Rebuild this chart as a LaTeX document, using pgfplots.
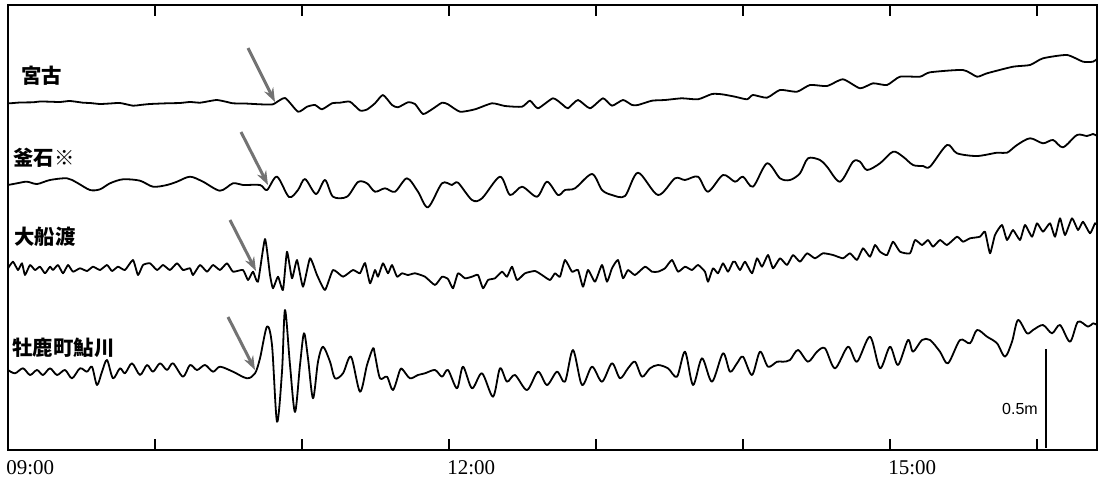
\documentclass[border=0pt]{standalone}
\usepackage{pgfplots}
\pgfplotsset{compat=1.18}
\usetikzlibrary{arrows.meta}
\usepackage{fontspec}
\setmainfont{Liberation Serif}
\newfontfamily\jp{Noto Sans CJK JP}
\newfontfamily\lsans{Liberation Sans}
\definecolor{arrowgray}{RGB}{115,115,115}
\begin{document}
\begin{tikzpicture}
\useasboundingbox (-4pt,-16.5pt) rectangle (545pt,225pt);
\begin{axis}[
  at={(0,0)}, anchor=south west, scale only axis,
  width=544.5pt, height=222.5pt,
  xmin=8, xmax=1097, ymin=-450, ymax=-5,
  axis line style={line width=1pt},
  xtick={8,155,302,449,596,743,890,1037},
  xticklabels={09:00,,,12:00,,,15:00,},
  ytick=\empty,
  tick align=inside, major tick length=5.5pt,
  tick style={line width=0.8pt, black},
  xticklabel style={anchor=north west, inner sep=0pt, yshift=-5pt, xshift=-1pt, font=\fontsize{10.5}{12}\selectfont},
  clip=false,
]
% 宮古
\addplot[black, line width=0.9pt, line join=round, smooth, tension=0.35] coordinates {
(8,-103)(10,-103.3)(20,-102.5)(33,-102.3)(40,-101.5)(50,-101.7)(60,-102)(70,-101)(83,-102.7)(90,-103)(100,-104)(110,-103.5)(120,-103)(133,-105.7)(140,-105)(150,-104)(167,-103.3)(180,-103)(190,-102)(200,-102.7)(210,-101)(217,-100)(225,-101.5)(233,-103.3)(245,-103.5)(260,-104.3)(273,-104.3)(285,-98)(298,-111.7)(307,-106.7)(315,-105)(322,-109.3)(332,-103.3)(340,-102.7)(350,-101.7)(360,-110.5)(367,-109.5)(375,-103.3)(383,-95)(392,-105)(398,-107.3)(408,-102.3)(415,-104)(423,-114)(432,-109.3)(442,-102.7)(448,-104.3)(460,-111.7)(475,-109.3)(492,-103.3)(505,-106)(522,-106.7)(530,-100.7)(538,-108.3)(553,-98.3)(563,-105)(568,-108.3)(578,-100)(590,-108.3)(603,-98.3)(612,-105.7)(623,-100)(632,-105)(638,-105)(652,-100.7)(665,-100)(682,-98.3)(698,-99.3)(712,-94)(722,-94.3)(735,-96.7)(747,-99.3)(753,-95)(767,-97.7)(780,-90)(797,-91.7)(810,-85)(827,-86)(843,-79.3)(860,-88.3)(873,-83.3)(887,-85)(900,-76.7)(920,-76.7)(930,-72.3)(963,-70)(977,-76.7)(987,-73.3)(1013,-66.7)(1030,-65)(1043,-58.3)(1067,-55)(1083,-61.7)(1093,-61.7)(1097,-59)
};
% 釜石
\addplot[black, line width=0.9pt, line join=round, smooth, tension=0.5] coordinates {
(8,-185)(17,-183.3)(27,-181.7)(37,-184)(50,-180)(67,-178.3)(77,-182.7)(90,-190)(100,-189.3)(110,-183.3)(123,-179.3)(140,-180.7)(153,-186.7)(167,-185)(177,-181.7)(190,-176.7)(203,-181.7)(220,-190.7)(233,-183.3)(243,-185)(260,-185)(267,-190)(277,-176.7)(289,-197)(298,-190)(305,-179)(316,-194)(325,-180)(333,-196.7)(347,-196.7)(358,-182)(367,-183.3)(375,-191.7)(385,-188.3)(395,-191.7)(407,-178.3)(418,-191.7)(428,-207.3)(442,-183.3)(452,-185)(458,-182.7)(472,-200)(482,-198.3)(500,-176.7)(510,-195)(522,-186.7)(537,-196.7)(547,-181.7)(558,-195)(565,-190)(575,-188.3)(592,-174)(602,-190)(612,-195)(625,-196)(638,-172.7)(658,-195)(675,-178.3)(685,-180)(698,-176.7)(708,-191.7)(723,-175)(735,-181.7)(743,-176.7)(753,-186.7)(767,-163.3)(780,-178.3)(790,-180)(800,-173.3)(808,-158.3)(820,-160)(827,-166.7)(840,-181.7)(853,-161.7)(860,-161.7)(867,-170)(880,-163.3)(893,-151.7)(903,-156.7)(913,-165)(923,-166)(930,-166.7)(947,-145)(957,-153.3)(977,-156)(997,-152.7)(1007,-152.7)(1017,-145)(1030,-138.3)(1043,-143.3)(1053,-140)(1063,-147.3)(1077,-135)(1087,-136)(1093,-134)(1097,-136)
};
% 大船渡
\addplot[black, line width=0.9pt, line join=round, smooth, tension=0.3] coordinates {
(8,-268.3)(13,-261.7)(18,-270)(22,-263.3)(25,-275)(30,-265)(35,-270)(40,-266.7)(45,-273.3)(50,-266.7)(53,-270)(58,-265)(63,-273.3)(68,-265)(73,-271.7)(80,-268.3)(87,-271)(93,-266.7)(100,-270)(107,-265)(112,-271)(118,-266.7)(125,-270)(133,-260)(138,-275)(143,-265)(150,-263.3)(157,-270)(163,-265)(170,-270)(177,-263.3)(183,-270)(190,-268.3)(193,-275)(200,-265)(207,-271.7)(213,-265)(220,-270)(227,-263.3)(233,-271.7)(243,-270)(248,-280)(253,-271.7)(258,-281.7)(265,-239)(270,-275)(273,-288.3)(278,-276.7)(283,-290)(287,-251.7)(292,-278.3)(297,-260)(303,-286.7)(310,-258.3)(317,-275)(325,-290)(333,-270)(343,-276.7)(353,-270)(360,-273.3)(365,-263)(370,-283.3)(375,-270)(378,-276.7)(383,-263.3)(388,-273.3)(392,-265)(397,-276.7)(402,-273.3)(408,-275)(415,-273.3)(425,-276.7)(435,-285)(442,-276.7)(448,-279)(453,-288.3)(458,-273.3)(465,-278.3)(472,-276.7)(478,-275)(483,-288.3)(488,-280)(495,-278.3)(502,-271.7)(507,-276.7)(512,-266.7)(517,-280)(525,-273.3)(535,-271)(542,-275)(550,-280)(555,-273.3)(560,-276.7)(565,-260)(572,-271.7)(578,-270)(583,-286.7)(588,-270)(595,-281.7)(602,-265)(607,-281.7)(612,-268.3)(618,-260)(623,-278.3)(628,-270)(635,-275)(645,-266.7)(652,-271.7)(658,-271.7)(665,-268.3)(672,-260)(678,-271.7)(685,-266.7)(692,-270)(698,-265)(705,-271.7)(708,-281.7)(713,-268.3)(718,-273.3)(723,-263.3)(728,-271.7)(733,-261.7)(735,-261.7)(740,-270)(745,-261.7)(752,-273.3)(757,-258.3)(762,-266.7)(768,-255)(773,-268.3)(780,-258.3)(787,-265)(793,-255)(800,-261.7)(807,-253.3)(815,-258.3)(823,-253.3)(833,-255)(843,-258.3)(850,-253.3)(857,-260)(863,-248.3)(870,-256.7)(875,-245)(880,-251.7)(887,-255)(893,-241.7)(900,-251.7)(910,-253.3)(915,-240)(922,-245)(928,-240)(933,-246.7)(940,-240)(947,-245)(957,-236.7)(963,-241.7)(970,-238.3)(980,-236.7)(985,-231.7)(990,-253.3)(995,-235)(1002,-225)(1007,-240)(1013,-230)(1020,-240)(1025,-225)(1032,-236.7)(1037,-223.3)(1043,-231.7)(1050,-223.3)(1055,-236.7)(1060,-218.3)(1065,-235)(1072,-218.3)(1078,-230)(1083,-221.7)(1090,-233.3)(1095,-223.3)(1097,-225)
};
% 牡鹿町鮎川
\addplot[black, line width=0.9pt, line join=round, smooth, tension=0.5] coordinates {
(8,-370)(15,-373.3)(23,-368.3)(30,-375)(37,-370)(43,-375)(50,-368.3)(57,-375)(65,-370)(72,-378.3)(80,-368.3)(87,-371.7)(92,-366.7)(97,-385)(102,-371.7)(107,-360)(113,-378.3)(120,-368.3)(125,-373.3)(132,-363.3)(140,-375)(147,-365)(153,-371.7)(160,-363.3)(167,-370)(173,-363.3)(183,-376.7)(190,-365)(197,-370)(205,-365)(213,-371.7)(220,-366.7)(233,-371.7)(247,-378.3)(255,-373.3)(260,-358.3)(267,-326.5)(272,-345)(277,-421.7)(282,-371.7)(285,-310)(290,-365)(295,-412)(300,-365)(304,-333.3)(308,-358.3)(313,-398.3)(318,-361.7)(323,-346.7)(330,-361.7)(335,-378.3)(343,-373.3)(351,-356.7)(360,-391.7)(367,-365)(373,-348.3)(375,-355)(380,-378.3)(387,-376.7)(393,-390)(400,-370)(403,-370)(410,-378.3)(418,-375)(425,-373.3)(435,-370)(442,-376.7)(448,-370)(457,-388.3)(463,-366.7)(472,-388.3)(482,-373.3)(493,-396.7)(500,-368.3)(507,-381.7)(515,-375)(527,-390)(538,-371.7)(547,-385)(557,-371.7)(565,-381.7)(573,-350)(582,-385)(592,-366.7)(602,-381.7)(612,-363.3)(620,-378.3)(628,-368.3)(635,-361.7)(642,-376.7)(650,-368.3)(658,-365)(668,-368.3)(677,-376.7)(685,-351.7)(693,-385)(702,-358.3)(712,-381.7)(723,-353.3)(730,-371.7)(737,-363.3)(743,-356.7)(752,-375)(760,-351.7)(768,-366.7)(777,-361.7)(783,-361.7)(790,-360)(798,-350)(808,-361.7)(817,-351.7)(825,-348.3)(835,-368.3)(848,-346.7)(857,-361.7)(870,-336.7)(880,-368.3)(890,-346.7)(898,-365)(908,-340)(913,-351.7)(922,-340)(930,-340)(940,-351.7)(948,-363.3)(960,-340)(970,-343.3)(977,-330)(987,-336.7)(997,-343.3)(1005,-356.7)(1012,-341.7)(1018,-320)(1027,-333.3)(1033,-330)(1043,-325)(1052,-333.3)(1060,-325)(1070,-341.7)(1078,-321.7)(1088,-326.7)(1093,-323.3)(1097,-325)
};
% arrows
\addplot[arrowgray, line width=1.5pt, -{Stealth[length=7pt,width=5pt]}] coordinates {(248,-48)(275,-102)};
\addplot[arrowgray, line width=1.5pt, -{Stealth[length=7pt,width=5pt]}] coordinates {(241,-132)(268,-185)};
\addplot[arrowgray, line width=1.5pt, -{Stealth[length=7pt,width=5pt]}] coordinates {(230,-220)(256,-271)};
\addplot[arrowgray, line width=1.5pt, -{Stealth[length=7pt,width=5pt]}] coordinates {(228,-317)(255,-370)};
% scale bar 0.5 m
\addplot[black, line width=0.9pt] coordinates {(1046,-349)(1046,-448)};
\node[font=\lsans\fontsize{8}{9}\selectfont, inner sep=0pt] at (axis cs:1020,-409) {0.5m};
% station labels
\node[font=\jp\bfseries\fontsize{10.2}{12}\selectfont, inner sep=0pt, anchor=west] at (axis cs:21,-76) {宮古};
\node[font=\jp\bfseries\fontsize{10.2}{12}\selectfont, inner sep=0pt, anchor=west] at (axis cs:13,-158) {釜石※};
\node[font=\jp\bfseries\fontsize{10.2}{12}\selectfont, inner sep=0pt, anchor=west] at (axis cs:14,-237) {大船渡};
\node[font=\jp\bfseries\fontsize{10.2}{12}\selectfont, inner sep=0pt, anchor=west] at (axis cs:12,-348) {牡鹿町鮎川};
\end{axis}
\end{tikzpicture}
\end{document}
